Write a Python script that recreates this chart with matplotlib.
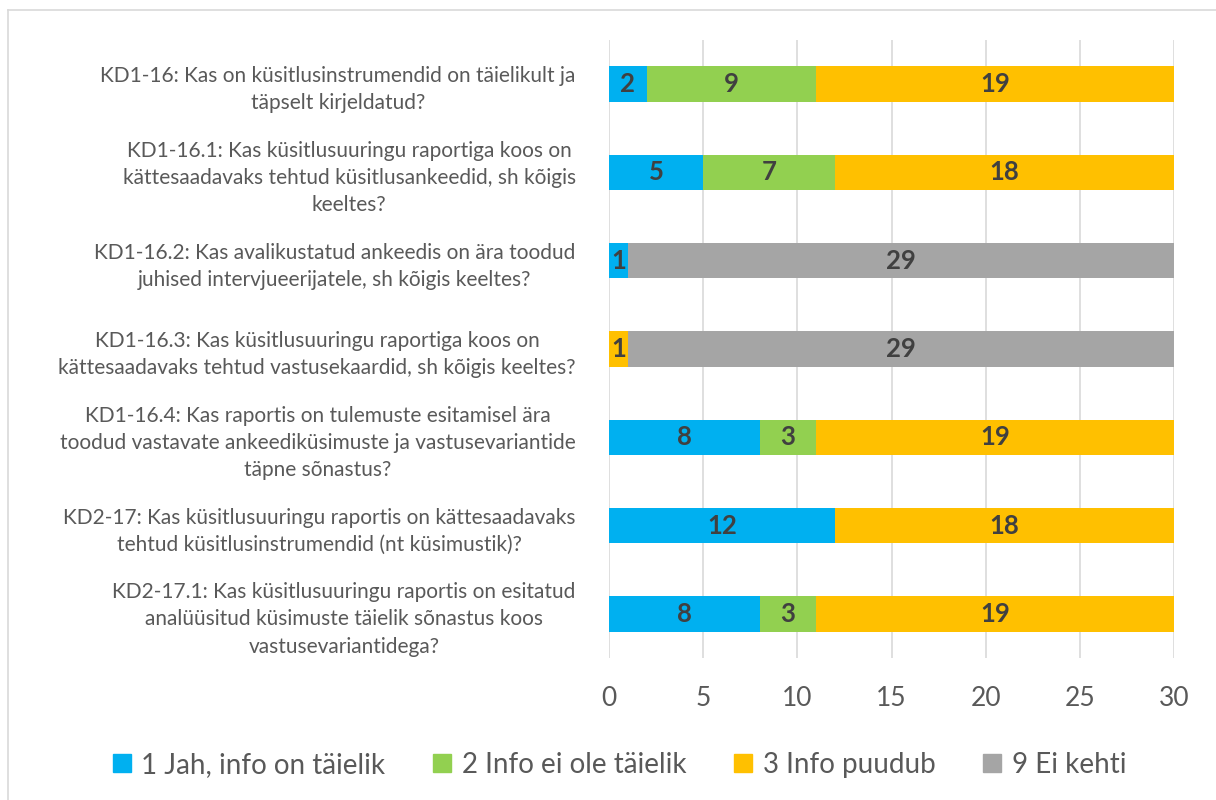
import numpy as np
import matplotlib.pyplot as plt
from matplotlib.lines import Line2D

questions = [
    "KD1-16: Kas on küsitlusinstrumendid on täielikult ja\ntäpselt kirjeldatud?",
    "KD1-16.1: Kas küsitlusuuringu raportiga koos on\nkättesaadavaks tehtud küsitlusankeedid, sh kõigis\nkeeltes?",
    "KD1-16.2: Kas avalikustatud ankeedis on ära toodud\njuhised intervjueerijatele, sh kõigis keeltes?",
    "KD1-16.3: Kas küsitlusuuringu raportiga koos on\nkättesaadavaks tehtud vastusekaardid, sh kõigis keeltes?",
    "KD1-16.4: Kas raportis on tulemuste esitamisel ära\ntoodud vastavate ankeediküsimuste ja vastusevariantide\ntäpne sõnastus?",
    "KD2-17: Kas küsitlusuuringu raportis on kättesaadavaks\ntehtud küsitlusinstrumendid (nt küsimustik)?",
    "KD2-17.1: Kas küsitlusuuringu raportis on esitatud\nanalüüsitud küsimuste täielik sõnastus koos\nvastusevariantidega?",
]
series_names = ["1 Jah, info on täielik", "2 Info ei ole täielik",
                "3 Info puudub", "9 Ei kehti"]
jah = [2, 5, 1, 0, 8, 12, 8]
ei_taielik = [9, 7, 0, 0, 3, 0, 3]
puudub = [19, 18, 0, 1, 19, 18, 19]
ei_kehti = [0, 0, 29, 29, 0, 0, 0]

colors = ["#00b0f0", "#92d050", "#ffc000", "#a5a5a5"]
txt = "#595959"

plt.rcParams["font.family"] = ["Lato", "DejaVu Sans"]

fig = plt.figure(figsize=(12.16, 8), dpi=100)
ax = fig.add_axes([609 / 1216, 1 - 658 / 800, 565 / 1216, 618 / 800])

y = np.arange(len(questions))
left = np.zeros(len(questions))
for vals, name, c in zip([jah, ei_taielik, puudub, ei_kehti], series_names, colors):
    vals = np.array(vals)
    bars = ax.barh(y, vals, left=left, height=0.4, color=c, label=name, zorder=3)
    for b, v in zip(bars, vals):
        if v > 0:
            ax.text(b.get_x() + b.get_width() / 2, b.get_y() + b.get_height() / 2,
                    str(v), ha="center", va="center", fontsize=18.5,
                    fontweight="bold", color="#404040", zorder=4)
    left += vals

ax.set_xlim(0, 30)
ax.set_ylim(6.5, -0.5)
ax.set_xticks(range(0, 31, 5))
ax.set_yticks(y)
ax.set_yticklabels(questions, fontsize=15, color=txt, multialignment="center",
                   linespacing=1.45)
ax.tick_params(axis="y", length=0, pad=24)
ax.tick_params(axis="x", length=0, labelsize=19, labelcolor=txt, pad=20)
ax.grid(axis="x", color="#d9d9d9", linewidth=1.2, zorder=0)
for s in ax.spines.values():
    s.set_visible(False)

handles = [Line2D([], [], marker="s", linestyle="", markersize=13, color=c)
           for c in colors]
fig.legend(handles, series_names, loc="center", bbox_to_anchor=(619 / 1216, 1 - 765 / 800),
           ncol=4, frameon=False, fontsize=20, labelcolor=txt,
           handlelength=0.7, handletextpad=0.35, columnspacing=1.7)

# chart area border
fig.add_artist(Line2D([8 / 1216, 8 / 1216], [0, 1 - 10 / 800],
                      transform=fig.transFigure, color="#d9d9d9", linewidth=1.2))
fig.add_artist(Line2D([8 / 1216, 1], [1 - 10 / 800, 1 - 10 / 800],
                      transform=fig.transFigure, color="#d9d9d9", linewidth=1.2))

fig.savefig("out.png", dpi=100, facecolor="white")
